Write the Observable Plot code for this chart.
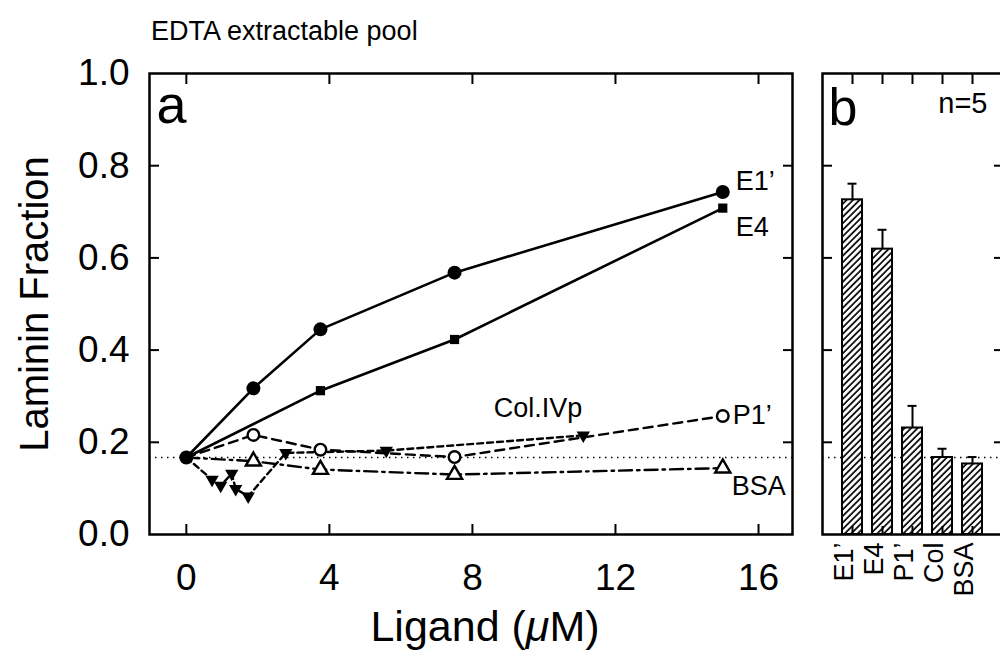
<!DOCTYPE html>
<html><head><meta charset="utf-8">
<script src="https://cdn.jsdelivr.net/npm/d3@7"></script>
<script src="https://cdn.jsdelivr.net/npm/@observablehq/plot@0.6"></script>
<style>
html,body{margin:0;padding:0;background:#fff;overflow:hidden;}
#wrap{position:relative;width:1000px;height:658px;overflow:hidden;font-family:"Liberation Sans",Arial,sans-serif;background:#fff;}
#title{position:absolute;left:151px;top:18px;font-size:27px;line-height:27px;color:#000;white-space:nowrap;}
#pa{position:absolute;left:0;top:50px;width:800px;height:608px;}
#pb{position:absolute;left:800px;top:50px;width:220px;height:608px;}
#pa svg,#pb svg{max-width:none !important;}
</style></head><body>
<div id="wrap"><div id="title">EDTA extractable pool</div><div id="pa"></div><div id="pb"></div></div>
<script>
// ---- data ----
const conc = [0, 1.875, 3.75, 7.5, 15];
const e1Vals = [0.167, 0.317, 0.445, 0.568, 0.743];
const e4Conc = [0, 3.75, 7.5, 15];
const e4Vals = [0.167, 0.312, 0.423, 0.708];
const p1Vals = [0.167, 0.216, 0.184, 0.168, 0.257];
const bsaVals = [0.167, 0.159, 0.141, 0.130, 0.144];
const colConc = [0, 0.72, 0.96, 1.27, 1.38, 1.73, 2.78, 5.59, 11.1];
const colVals = [0.167, 0.119, 0.106, 0.132, 0.099, 0.083, 0.177, 0.182, 0.215];
const baselineVal = 0.167;
const xTicks = [0, 4, 8, 12, 16];
const yTickVals = [0, 0.2, 0.4, 0.6, 0.8, 1.0];
const yInner = [0.2, 0.4, 0.6, 0.8];
const barCats = ["E1’", "E4", "P1’", "Col", "BSA"];
const barVals = [0.726, 0.619, 0.231, 0.167, 0.153];
const barErr = [0.035, 0.042, 0.048, 0.019, 0.015];
const seriesNames = ["E1’", "E4", "P1’", "Col.IVp", "BSA"];

const pts = (xs, ys) => xs.map((x, i) => ({x, y: ys[i]}));
const E1 = pts(conc, e1Vals);
const E4 = pts(e4Conc, e4Vals);
const P1 = pts(conc, p1Vals);
const BSA = pts(conc, bsaVals);
const COL = pts(colConc, colVals);
const bars = barCats.map((c, i) => ({cat: c, val: barVals[i], err: barErr[i]}));

const triDown = {
  draw(ctx, size) {
    const r = Math.sqrt(size / Math.PI);
    const a = 2.15 * r;
    const h1 = a * Math.sqrt(3) / 6, h2 = a * Math.sqrt(3) / 3;
    ctx.moveTo(-a / 2, -h1);
    ctx.lineTo(a / 2, -h1);
    ctx.lineTo(0, h2);
    ctx.closePath();
  }
};

const FONT = "'Liberation Sans', Arial, sans-serif";
const last = arr => arr[arr.length - 1];

const svgA = Plot.plot({
  width: 800, height: 608,
  marginLeft: 149, marginRight: 8, marginTop: 23, marginBottom: 124,
  style: {fontFamily: FONT, color: "black", background: "white", overflow: "visible", maxWidth: "none"},
  x: {domain: [-1.03, 16.95]},
  y: {domain: [0, 1]},
  marks: [
    Plot.ruleY([baselineVal], {stroke: "black", strokeWidth: 1.3, strokeDasharray: "1.5,4.5"}),
    Plot.line(E1, {x: "x", y: "y", stroke: "black", strokeWidth: 2.6}),
    Plot.line(E4, {x: "x", y: "y", stroke: "black", strokeWidth: 2.6}),
    Plot.line(P1, {x: "x", y: "y", stroke: "black", strokeWidth: 2.4, strokeDasharray: "9,6"}),
    Plot.line(BSA, {x: "x", y: "y", stroke: "black", strokeWidth: 2.4, strokeDasharray: "13,5,2.5,5"}),
    Plot.line(COL, {x: "x", y: "y", stroke: "black", strokeWidth: 2.4, strokeDasharray: "6,4"}),
    Plot.dot(P1.slice(1), {x: "x", y: "y", r: 5.8, symbol: "circle", fill: "white", stroke: "black", strokeWidth: 2.4}),
    Plot.dot(BSA.slice(1), {x: "x", y: "y", r: 5.6, symbol: "triangle", fill: "white", stroke: "black", strokeWidth: 2.4}),
    Plot.dot(COL.slice(1), {x: "x", y: "y", r: 6.2, symbol: triDown, fill: "black", stroke: "none"}),
    Plot.dot(E4.slice(1), {x: "x", y: "y", r: 5.2, symbol: "square", fill: "black", stroke: "none"}),
    Plot.dot(E1, {x: "x", y: "y", r: 7, symbol: "circle", fill: "black", stroke: "none"}),
    Plot.text([last(E1)], {x: "x", y: "y", text: () => seriesNames[0], dx: 13, dy: -11, textAnchor: "start", lineAnchor: "middle", fontSize: 27, fill: "black"}),
    Plot.text([last(E4)], {x: "x", y: "y", text: () => seriesNames[1], dx: 13, dy: 19, textAnchor: "start", lineAnchor: "middle", fontSize: 27, fill: "black"}),
    Plot.text([last(P1)], {x: "x", y: "y", text: () => seriesNames[2], dx: 10, dy: -1, textAnchor: "start", lineAnchor: "middle", fontSize: 27, fill: "black"}),
    Plot.text([last(COL)], {x: "x", y: "y", text: () => seriesNames[3], dx: -1, dy: -27, textAnchor: "end", lineAnchor: "middle", fontSize: 27, fill: "black"}),
    Plot.text([last(BSA)], {x: "x", y: "y", text: () => seriesNames[4], dx: 9, dy: 18, textAnchor: "start", lineAnchor: "middle", fontSize: 27, fill: "black"}),
    Plot.text(["a"], {frameAnchor: "top-left", dx: 7, dy: 11, textAnchor: "start", lineAnchor: "top", fontSize: 54, fill: "black"}),
    // axes
    Plot.axisX(xTicks, {anchor: "bottom", tickSize: 0, tickPadding: 29, fontSize: 37, label: null}),
    Plot.axisX(xTicks, {anchor: "bottom", tickSize: -10, strokeWidth: 2, fill: "none", label: null}),
    Plot.axisX(xTicks, {anchor: "top", tickSize: -10, strokeWidth: 2, fill: "none", label: null}),
    Plot.axisY(yTickVals, {anchor: "left", tickSize: 0, tickPadding: 20, fontSize: 37, tickFormat: d3.format(".1f"), label: null}),
    Plot.axisY(yInner, {anchor: "left", tickSize: -10, strokeWidth: 2, fill: "none", label: null}),
    Plot.axisY(yInner, {anchor: "right", tickSize: -10, strokeWidth: 2, fill: "none", label: null}),
    Plot.text(["Ligand (μM)"], {frameAnchor: "bottom", dx: 14, dy: 76, textAnchor: "middle", lineAnchor: "top", fontSize: 43, fill: "black"}),
    Plot.text(["Laminin Fraction"], {frameAnchor: "left", dx: -130, rotate: -90, textAnchor: "middle", lineAnchor: "top", fontSize: 40, fill: "black"}),
    Plot.frame({stroke: "black", strokeWidth: 2.5})
  ]
});
document.getElementById("pa").appendChild(svgA);
d3.select(svgA).selectAll("text").filter(function() { return this.textContent === "Ligand (μM)"; })
  .each(function() {
    const t = d3.select(this);
    t.text("");
    t.append("tspan").text("Ligand (");
    t.append("tspan").attr("font-style", "italic").text("μ");
    t.append("tspan").text("M)");
  });

const svgB = Plot.plot({
  width: 220, height: 608,
  marginLeft: 22, marginRight: 17, marginTop: 23, marginBottom: 124,
  style: {fontFamily: FONT, color: "black", background: "white", overflow: "visible", maxWidth: "none"},
  x: {domain: barCats, paddingInner: 0.33, paddingOuter: 0.64, align: 0.5},
  y: {domain: [0, 1]},
  marks: [
    Plot.ruleY([baselineVal], {stroke: "black", strokeWidth: 1.3, strokeDasharray: "1.5,4.5"}),
    Plot.ruleX(bars, {x: "cat", y1: "val", y2: d => d.val + d.err, stroke: "black", strokeWidth: 2}),
    Plot.tickY(bars, {x: "cat", y: d => d.val + d.err, stroke: "black", strokeWidth: 2, insetLeft: 5.5, insetRight: 5.5}),
    Plot.barY(bars, {x: "cat", y: "val", fill: "url(#hatchB)", stroke: "black", strokeWidth: 2}),
    Plot.text(bars, {x: "cat", text: "cat", frameAnchor: "bottom", dy: 8, rotate: -90, textAnchor: "end", lineAnchor: "bottom", fontSize: 27, fill: "black"}),
    Plot.text(["b"], {frameAnchor: "top-left", dx: 6, dy: 15, textAnchor: "start", lineAnchor: "top", fontSize: 52, fill: "black"}),
    Plot.text(["n=5"], {frameAnchor: "top-right", dx: -16, dy: 19, textAnchor: "end", lineAnchor: "top", fontSize: 29, fill: "black"}),
    Plot.axisX(barCats, {anchor: "bottom", tickSize: -8, strokeWidth: 2, fill: "none", label: null}),
    Plot.axisX(barCats, {anchor: "top", tickSize: -10, strokeWidth: 2, fill: "none", label: null}),
    Plot.axisY(yInner, {anchor: "left", tickSize: -10, strokeWidth: 2, fill: "none", label: null}),
    Plot.axisY(yInner, {anchor: "right", tickSize: -10, strokeWidth: 2, fill: "none", label: null}),
    Plot.frame({stroke: "black", strokeWidth: 2.5})
  ]
});
d3.select(svgB).insert("defs", ":first-child").html(
  '<pattern id="hatchB" patternUnits="userSpaceOnUse" width="4.6" height="4.6" patternTransform="rotate(45)">' +
  '<rect width="4.6" height="4.6" fill="white"/>' +
  '<line x1="1" y1="0" x2="1" y2="4.6" stroke="black" stroke-width="1.7"/></pattern>'
);
document.getElementById("pb").appendChild(svgB);
</script>
</body></html>
